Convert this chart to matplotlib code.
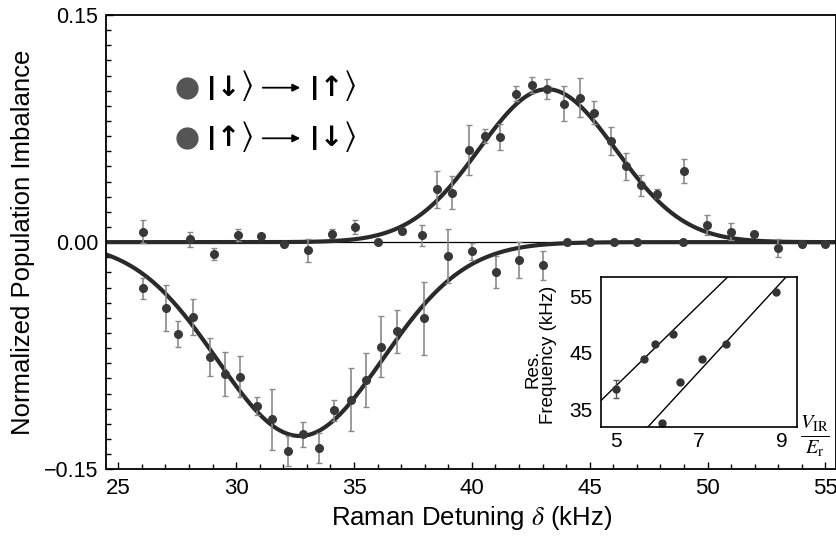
import numpy as np
import matplotlib
matplotlib.use('Agg')
import matplotlib.pyplot as plt
from matplotlib.ticker import MultipleLocator

plt.rcParams['font.family'] = ['Liberation Sans', 'DejaVu Sans']
plt.rcParams['mathtext.fontset'] = 'stix'

# |down> -> |up>  (positive peak)
up_x = [26.03, 28.05, 29.08, 30.06, 31.06, 32.05, 33.04, 34.06, 35.05, 36.01, 37.03,
        37.87, 38.51, 39.15, 39.89, 40.54, 41.18, 41.89, 42.55, 43.19, 43.9, 44.57,
        45.2, 45.9, 46.54, 47.17, 47.84, 49.0, 49.98, 50.98, 51.97, 52.99, 53.99, 55.0]
up_y = [0.0069, 0.0018, -0.008, 0.0046, 0.004, -0.001, -0.0055, 0.0057, 0.010, 0.0, 0.0073,
        0.0046, 0.0348, 0.0326, 0.0608, 0.070, 0.0697, 0.098, 0.1038, 0.101, 0.0915, 0.0954,
        0.0855, 0.0668, 0.050, 0.0375, 0.032, 0.047, 0.0113, 0.0069, 0.0057, -0.0037, -0.0015, -0.001]
up_err = [0.0075, 0.005, 0.004, 0.004, 0.0, 0.0, 0.0075, 0.003, 0.0044, 0.0, 0.002,
          0.007, 0.0124, 0.011, 0.0165, 0.0044, 0.0086, 0.005, 0.0054, 0.0066, 0.0115, 0.013,
          0.0074, 0.009, 0.0087, 0.007, 0.003, 0.008, 0.0063, 0.0057, 0.0, 0.006, 0.002, 0.0]

# |up> -> |down>  (negative dip)
lo_x = [26.03, 27.02, 27.55, 28.18, 28.88, 29.53, 30.17, 30.88, 31.54, 32.18, 32.85,
        33.52, 34.17, 34.86, 35.51, 36.14, 36.84, 37.97, 38.98, 40.0, 41.02, 42.0,
        43.03, 44.02, 45.01, 46.03, 47.0, 48.97]
lo_y = [-0.0306, -0.0434, -0.0606, -0.0496, -0.076, -0.087, -0.089, -0.108, -0.117, -0.138, -0.127,
        -0.136, -0.111, -0.104, -0.091, -0.069, -0.059, -0.0504, -0.009, -0.006, -0.0196, -0.012,
        -0.0154, 0.0, 0.0, 0.0, 0.0, 0.0]
lo_err = [0.007, 0.015, 0.0088, 0.012, 0.0126, 0.0145, 0.0135, 0.006, 0.020, 0.010, 0.008,
          0.0097, 0.007, 0.021, 0.018, 0.020, 0.014, 0.024, 0.018, 0.0055, 0.0105, 0.012,
          0.0094, 0.0, 0.0, 0.0, 0.0, 0.0]

# gaussian fit parameters: center, amplitude, width
up_fit = (43.2, 0.101, 2.9)
lo_fit = (32.7, -0.128, 3.5)

# inset: resonance frequency vs lattice depth
in_x = [4.98, 5.68, 5.93, 6.38, 6.53, 6.10, 7.08, 7.65, 8.86]
in_y = [38.6, 43.9, 46.6, 48.4, 39.8, 32.5, 43.9, 46.6, 55.9]
in_err = [1.6, 0, 0, 0, 0, 0, 0, 0, 0]
in_lines = [(7.15, 3.47), (7.96, -14.03)]   # slope, intercept

W, H = 837, 548
fig = plt.figure(figsize=(W / 100, H / 100), dpi=100)
ax = fig.add_axes([106.5 / W, 1 - 469.3 / H, 729.5 / W, 454.3 / H])

ax.axhline(0, color='k', lw=0.9, zorder=1)
xs = np.linspace(24.5, 55.5, 500)
for c, a, s in (up_fit, lo_fit):
    ax.plot(xs, a * np.exp(-(xs - c) ** 2 / (2 * s ** 2)), color='#2a2a2a', lw=3, zorder=2)

for x, y, e in ((up_x, up_y, up_err), (lo_x, lo_y, lo_err)):
    ax.errorbar(x, y, yerr=e, fmt='o', ms=5.5, color='#383838', ecolor='#8a8a8a',
                elinewidth=1.2, capsize=2, capthick=1, zorder=3)

ax.set_xlim(24.5, 55.45)
ax.set_ylim(-0.15, 0.15)
ax.set_xticks([25, 30, 35, 40, 45, 50, 55])
ax.xaxis.set_minor_locator(MultipleLocator(1))
ax.set_yticks([-0.15, 0, 0.15])
ax.set_yticklabels(['\u22120.15', '0.00', '0.15'])
ax.yaxis.set_minor_locator(MultipleLocator(0.01))
ax.tick_params(which='both', direction='in', top=False, right=False, width=1)
ax.tick_params(axis='x', labelsize=16)
ax.tick_params(axis='y', labelsize=15.5)
ax.tick_params(which='major', length=5, pad=6)
ax.tick_params(which='minor', length=3.5)
for sp in ax.spines.values():
    sp.set_linewidth(1.3)
ax.set_xlabel(r'Raman Detuning $\delta$ (kHz)', fontsize=18.5, labelpad=4)
ax.set_ylabel('Normalized Population Imbalance', fontsize=18.5, labelpad=6)

# legend: dot, |spin>, long arrow, |spin>
kets = [('\u2193', '\u2191', 0.840), ('\u2191', '\u2193', 0.7286)]
for a, b, yy in kets:
    ax.plot([0.1108], [yy], 'o', ms=15, color='#555555', transform=ax.transAxes, clip_on=False)
    for x0, arrow in ((0.1442, a), (0.2849, b)):
        ax.text(x0, yy, '|', transform=ax.transAxes, fontsize=19, ha='center', va='center',
                fontweight='bold')
        ax.text(x0 + 0.0228, yy, arrow, transform=ax.transAxes, fontsize=20, ha='center',
                va='center', family='DejaVu Sans', fontweight='bold')
        ax.text(x0 + 0.0475, yy + 0.004, r'$\rangle$', transform=ax.transAxes, fontsize=24,
                ha='center', va='center')
    ax.annotate('', xy=(0.2694, yy), xytext=(0.2104, yy), xycoords='axes fraction',
                arrowprops=dict(arrowstyle='-|>', lw=1.3, color='k', mutation_scale=11))

# inset
axin = fig.add_axes([600.7 / W, 1 - 426.7 / H, 196 / W, 149.4 / H])
xl = np.array([4.5, 9.5])
for s, b in in_lines:
    axin.plot(xl, s * xl + b, color='k', lw=1)
axin.errorbar(in_x, in_y, yerr=in_err, fmt='o', ms=5, color='#333333', ecolor='#555555',
              elinewidth=1, capsize=2)
axin.set_xlim(4.62, 9.37)
axin.set_ylim(31.9, 58.45)
axin.set_xticks([5, 7, 9])
axin.set_yticks([35, 45, 55])
axin.tick_params(length=0, labelsize=15)
axin.tick_params(axis='y', pad=6)
axin.tick_params(axis='x', pad=4)
for sp in axin.spines.values():
    sp.set_linewidth(1.2)
fig.text(549 / W, 1 - 355 / H, 'Frequency (kHz)', rotation=90, ha='center', va='center', fontsize=13.5)
fig.text(533 / W, 1 - 369 / H, 'Res.', rotation=90, ha='center', va='center', fontsize=13.5)
fig.text(815 / W, 1 - 436 / H, r'$\frac{V_{\mathrm{IR}}}{E_{\mathrm{r}}}$', fontsize=21,
         ha='center', va='center')

fig.savefig('out.png', dpi=100)
